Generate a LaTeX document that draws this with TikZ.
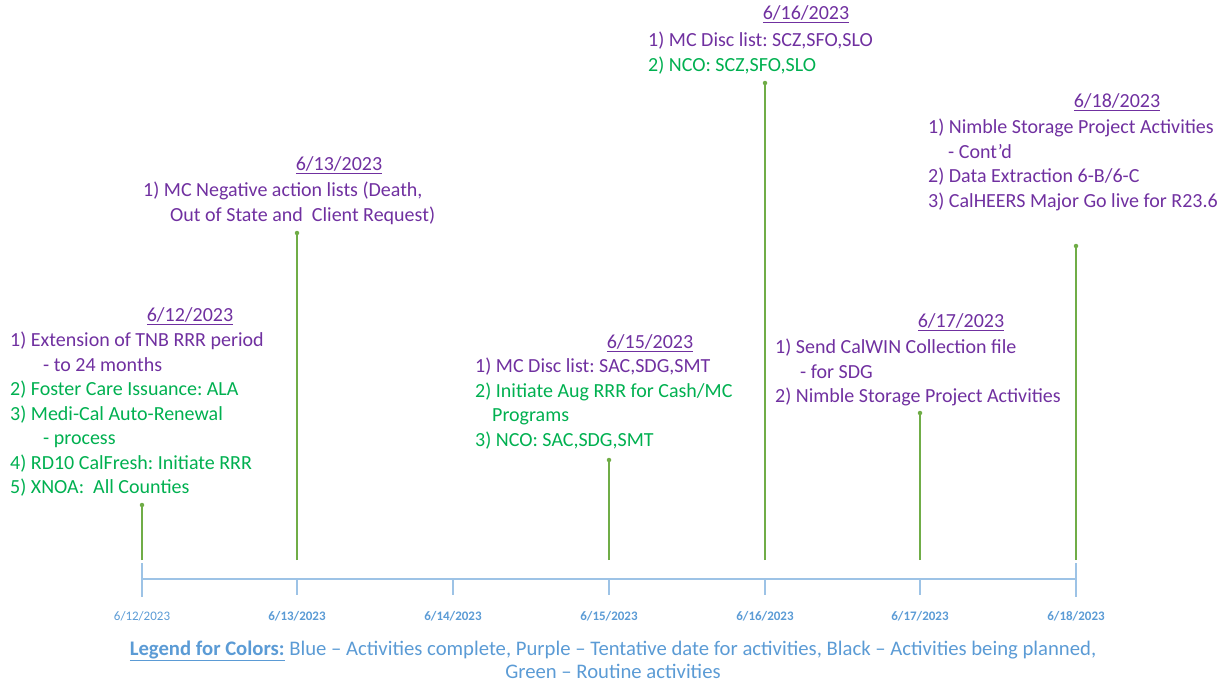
\documentclass[tikz,border=0pt]{standalone}
\usepackage{fontspec}
\setmainfont{Carlito}
\usepackage{tikz}
\usetikzlibrary{positioning}
\definecolor{tlpurple}{HTML}{7030A0}
\definecolor{tlgreen}{HTML}{00B050}
\definecolor{stemgreen}{HTML}{70AD47}
\definecolor{axisblue}{HTML}{9DC3E6}
\definecolor{labelblue}{HTML}{5B9BD5}
\newcommand{\pl}[1]{\textcolor{tlpurple}{#1}}
\newcommand{\gl}[1]{\textcolor{tlgreen}{#1}}
\frenchspacing

\begin{document}
\begin{tikzpicture}[x=1pt,y=-1pt,
	datetxt/.style={text=tlpurple,font=\fontsize{20}{22}\selectfont,inner sep=0pt},
	listtxt/.style={align=left,anchor=north west,inner sep=0pt,font=\fontsize{20}{24.5}\selectfont},
	daytxt/.style={text=labelblue,font=\fontsize{13}{15}\selectfont\bfseries,inner sep=0pt},
	tick/.style={draw=axisblue,line width=1.6pt},
	stem/.style={draw=stemgreen,line width=1.6pt},
	dot/.style={circle,fill=stemgreen,inner sep=0pt,minimum size=4.5pt}]
	\useasboundingbox (0,0) rectangle (1226,685);
	% axis and ticks
	\coordinate (a12) at (142,579);
	\coordinate (a18) at (1076,579);
	\draw[tick] (a12) -- (a18);
	\draw[tick] (142,563) -- (142,597);
	\draw[tick] (1076,563) -- (1076,597);
	\draw[tick] (297,579) -- (297,595);
	\draw[tick] (453,579) -- (453,595);
	\draw[tick] (609,579) -- (609,595);
	\draw[tick] (765,579) -- (765,595);
	\draw[tick] (920,579) -- (920,595);
	% axis labels
	\node[daytxt,font=\fontsize{13}{15}\selectfont] (l12) at (142,616) {6/12/2023};
	\node[daytxt] (l13) at (297,616) {6/13/2023};
	\node[daytxt] (l14) at (453,616) {6/14/2023};
	\node[daytxt] (l15) at (609,616) {6/15/2023};
	\node[daytxt] (l16) at (765,616) {6/16/2023};
	\node[daytxt] (l17) at (920,616) {6/17/2023};
	\node[daytxt] (l18) at (1076,616) {6/18/2023};
	% stems
	\coordinate (b12) at (142,560);
	\coordinate (b13) at (297,560);
	\coordinate (b15) at (609,560);
	\coordinate (b16) at (765,560);
	\coordinate (b17) at (920,560);
	\coordinate (b18) at (1076,560);
	\node[dot] (p12) at (142,505) {};
	\node[dot] (p13) at (297,233) {};
	\node[dot] (p15) at (609,460) {};
	\node[dot] (p16) at (765,83) {};
	\node[dot] (p17) at (920,413) {};
	\node[dot] (p18) at (1076,246) {};
	\draw[stem] (b12) -- (p12);
	\draw[stem] (b13) -- (p13);
	\draw[stem] (b15) -- (p15);
	\draw[stem] (b16) -- (p16);
	\draw[stem] (b17) -- (p17);
	\draw[stem] (b18) -- (p18);
	% dates
	\node[datetxt] (d12) at (190,316) {\underline{6/12/2023}};
	\node[datetxt] (d13) at (339,165) {\underline{6/13/2023}};
	\node[datetxt] (d15) at (650,343) {\underline{6/15/2023}};
	\node[datetxt] (d16) at (806,14) {\underline{6/16/2023}};
	\node[datetxt] (d17) at (961,322) {\underline{6/17/2023}};
	\node[datetxt] (d18) at (1117,102) {\underline{6/18/2023}};
	% activity lists
	\node[listtxt] (n12) at (10,332) {\pl{1) Extension of TNB RRR period}\\
		\pl{\hspace*{33pt}- to 24 months}\\
		\gl{2) Foster Care Issuance: ALA}\\
		\gl{3) Medi-Cal Auto-Renewal}\\
		\gl{\hspace*{33pt}- process}\\
		\gl{4) RD10 CalFresh: Initiate RRR}\\
		\gl{5) XNOA:\ \ All Counties}};
	\node[listtxt] (n13) at (143,182) {\pl{1) MC Negative action lists (Death,}\\
		\pl{\hspace*{27pt}Out of State and\ \ Client Request)}};
	\node[listtxt] (n15) at (475,358) {\pl{1) MC Disc list: SAC,SDG,SMT}\\
		\gl{2) Initiate Aug RRR for Cash/MC}\\
		\gl{\hspace*{17pt}Programs}\\
		\gl{3) NCO: SAC,SDG,SMT}};
	\node[listtxt] (n16) at (648,32) {\pl{1) MC Disc list: SCZ,SFO,SLO}\\
		\gl{2) NCO: SCZ,SFO,SLO}};
	\node[listtxt] (n17) at (775,339) {\pl{1) Send CalWIN Collection file}\\
		\pl{\hspace*{25pt}- for SDG}\\
		\pl{2) Nimble Storage Project Activities}};
	\node[listtxt] (n18) at (928,119) {\pl{1) Nimble Storage Project Activities}\\
		\pl{\hspace*{20pt}- Cont’d}\\
		\pl{2) Data Extraction 6-B/6-C}\\
		\pl{3) CalHEERS Major Go live for R23.6}};
	% legend
	\node[align=center,text=labelblue,font=\fontsize{20.7}{23.5}\selectfont,inner sep=0pt] (leg) at (613,660)
		{\textbf{\underline{Legend for Colors:}} Blue – Activities complete, Purple – Tentative date for activities, Black – Activities being planned,\\
		Green – Routine activities};
\end{tikzpicture}
\end{document}
